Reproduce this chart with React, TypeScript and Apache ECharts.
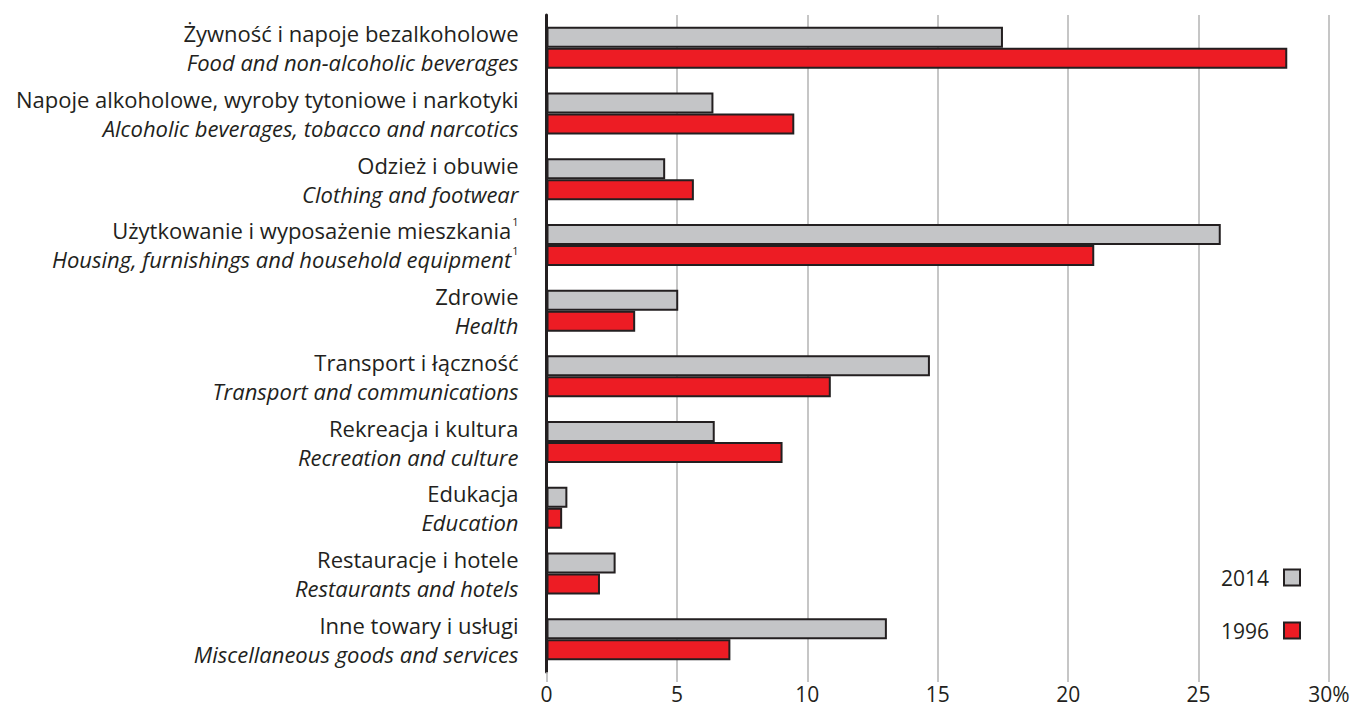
import React, { useEffect, useRef } from "react";
import * as echarts from "echarts";

const categoriesPl = [
  "Żywność i napoje bezalkoholowe",
  "Napoje alkoholowe, wyroby tytoniowe i narkotyki",
  "Odzież i obuwie",
  "Użytkowanie i wyposażenie mieszkania",
  "Zdrowie",
  "Transport i łączność",
  "Rekreacja i kultura",
  "Edukacja",
  "Restauracje i hotele",
  "Inne towary i usługi",
];
const categoriesEn = [
  "Food and non-alcoholic beverages",
  "Alcoholic beverages, tobacco and narcotics",
  "Clothing and footwear",
  "Housing, furnishings and household equipment",
  "Health",
  "Transport and communications",
  "Recreation and culture",
  "Education",
  "Restaurants and hotels",
  "Miscellaneous goods and services",
];
const footnoted = [false, false, false, true, false, false, false, false, false, false];
const values2014 = [17.5, 6.4, 4.55, 25.85, 5.05, 14.7, 6.45, 0.8, 2.65, 13.05];
const values1996 = [28.4, 9.5, 5.65, 21.0, 3.4, 10.9, 9.05, 0.6, 2.05, 7.05];
const xTicks = [0, 5, 10, 15, 20, 25, 30];

const FONT = "'Open Sans', sans-serif";
const TEXT = "#231f20";

export default function App() {
  const ref = useRef<HTMLDivElement>(null);
  useEffect(() => {
    if (!ref.current) return;
    const chart = echarts.init(ref.current, null, { renderer: "svg" });
    const cats = categoriesPl.map((c, i) => String(i));
    chart.setOption({
      animation: false,
      backgroundColor: "#ffffff",
      textStyle: { fontFamily: FONT, color: TEXT },
      grid: { left: 546.5, right: 39, top: 15, bottom: 36, containLabel: false },
      legend: {
        data: ["2014", "1996"],
        orient: "vertical",
        right: 62,
        top: 562,
        align: "right",
        icon: "rect",
        itemWidth: 16,
        itemHeight: 16,
        itemGap: 32,
        textStyle: { fontSize: 21, color: TEXT, fontFamily: FONT, padding: [0, 10, 0, 0] },
        selectedMode: false,
      },
      xAxis: {
        type: "value",
        min: 0,
        max: 30,
        interval: 5,
        axisLine: { show: false },
        axisTick: { show: true, length: 10, lineStyle: { color: "#b3b3b3", width: 1.5 } },
        splitLine: { show: true, lineStyle: { color: "#b3b3b3", width: 1.5 } },
        axisLabel: {
          margin: 11,
          fontSize: 21,
          color: TEXT,
          fontFamily: FONT,
          formatter: (v: number) => (v === xTicks[xTicks.length - 1] ? v + "%" : String(v)),
        },
      },
      yAxis: {
        type: "category",
        inverse: true,
        data: cats,
        axisLine: { show: true, lineStyle: { color: TEXT, width: 3 } },
        axisTick: { show: false },
        axisLabel: {
          margin: 28,
          align: "right",
          formatter: (v: string) => {
            const i = Number(v);
            const sup = footnoted[i] ? "{sup|1}" : "";
            return `{pl|${categoriesPl[i]}}${sup}\n{en|${categoriesEn[i]}}${sup}`;
          },
          rich: {
            pl: { fontSize: 22, lineHeight: 29, color: TEXT, fontFamily: FONT },
            en: { fontSize: 22, lineHeight: 29, color: TEXT, fontFamily: FONT, fontStyle: "italic" },
            sup: { fontSize: 11, lineHeight: 29, color: TEXT, fontFamily: FONT, verticalAlign: "top", padding: [0, 0, 11, 1] },
          },
        },
      },
      series: [
        {
          name: "2014",
          type: "bar",
          data: values2014,
          barWidth: 21,
          barGap: "0%",
          itemStyle: { color: "#c4c5c7", borderColor: TEXT, borderWidth: 2 },
        },
        {
          name: "1996",
          type: "bar",
          data: values1996,
          barWidth: 21,
          barGap: "0%",
          itemStyle: { color: "#ed1c24", borderColor: TEXT, borderWidth: 2 },
        },
      ],
    });
    return () => chart.dispose();
  }, []);
  return (
    <div
      ref={ref}
      style={{ position: "fixed", left: 0, top: 0, width: 1368, height: 708 }}
    />
  );
}
